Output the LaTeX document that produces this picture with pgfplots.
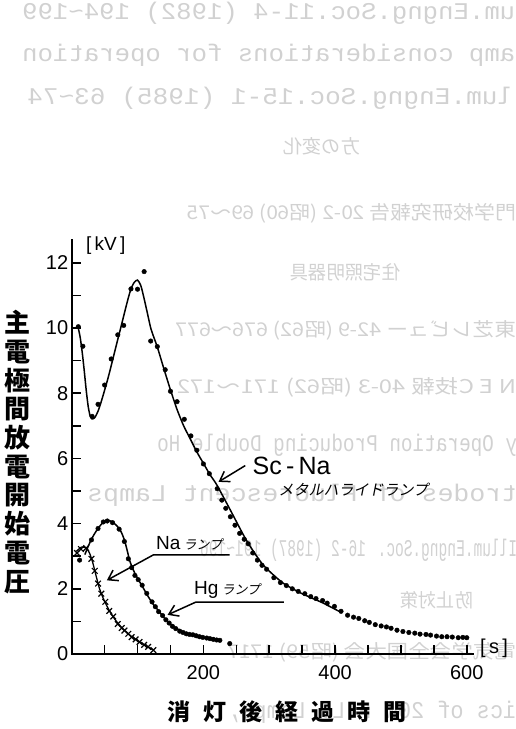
\documentclass[border=0pt]{standalone}
\usepackage{pgfplots}
\pgfplotsset{compat=1.18}
\usepackage{graphicx}
\usepackage{fontspec}
\setmainfont{Liberation Sans}
\newfontfamily\jp{Noto Sans CJK JP}
\newfontfamily\jpsl{Noto Sans CJK JP}[FakeSlant=0.2]
\newfontfamily\mono{Liberation Mono}
\usetikzlibrary{arrows.meta}
\newcommand{\bgl}[5]{\node[anchor=west, inner sep=0pt, text=black!18] at (#1pt,#2pt) {\reflectbox{\resizebox{#3pt}{\height}{#4#5}}};}
\begin{document}
\begin{tikzpicture}
\path[use as bounding box] (-71.7pt,-75pt) rectangle (444.3pt,654pt);
% faint show-through of the reverse page
\bgl{-49.7}{641}{493}{\mono\fontsize{24}{28}\selectfont}{um.Engng.Soc.11-4 (1982) 194\textasciitilde 199}
\bgl{-49.7}{599}{493}{\mono\fontsize{24}{28}\selectfont}{amp considerations for operation}
\bgl{-44.7}{556}{486}{\mono\fontsize{24}{28}\selectfont}{lum.Engng.Soc.15-1 (1985) 63\textasciitilde 74}
\bgl{211.3}{508}{77}{\jp\fontsize{19}{22}\selectfont}{方の変化}
\bgl{115.3}{441}{329}{\jp\fontsize{19}{22}\selectfont}{門学校研究報告 20-2 (昭60) 69～75}
\bgl{218.3}{382}{110}{\jp\fontsize{19}{22}\selectfont}{住宅照明器具}
\bgl{103.3}{324}{341}{\jp\fontsize{19}{22}\selectfont}{東芝レビュー 42-9 (昭62) 676～677}
\bgl{105.3}{267}{339}{\jp\fontsize{19}{22}\selectfont}{N E C技報 40-3 (昭62) 171～172}
\bgl{85.3}{209}{360}{\mono\fontsize{24}{28}\selectfont}{y Operation Producing Double Ho}
\bgl{15.3}{159}{430}{\mono\fontsize{24}{28}\selectfont}{trodes of Fluorescent Lamps}
\bgl{128.3}{104}{317}{\mono\fontsize{24}{28}\selectfont}{Illum.Engng.Soc. 16-2 (1987) 191\textasciitilde 196}
\bgl{328.3}{54}{73}{\jp\fontsize{19}{22}\selectfont}{防止対策}
\bgl{155.3}{2}{289}{\jp\fontsize{19}{22}\selectfont}{電気学会全国大会 (昭59) 1717}
\bgl{155.3}{-58}{289}{\mono\fontsize{24}{28}\selectfont}{ics of 20W F.L. Lamps,}
\begin{axis}[
  at={(0,0)}, anchor=south west,
  x=0.6585pt, y=32.6pt,
  xmin=0, xmax=610, ymin=0, ymax=12.7,
  axis lines=left,
  axis line style={-, line width=1.9pt, line cap=rect},
  tick align=inside,
  xtick={200,400,600},
  minor xtick={50,100,150,250,300,350,450,500,550},
  ytick={0,2,4,6,8,10,12},
  minor ytick={1,3,5,7,9,11},
  major tick length=9pt, minor tick length=9pt,
  tick style={black, line width=1.5pt},
  tick label style={font=\fontsize{20}{24}\selectfont},
  xticklabel style={yshift=-8pt},
  /pgf/number format/assume math mode=true,
  clip=false,
]
% Sc-Na metal halide lamp: measured points
\addplot[only marks, mark=*, mark size=2.3pt, black] table {
10 10.04
17 9.44
31 7.29
40 7.66
50 8.25
60 9.05
70 9.79
79 10.08
90 11.20
100 11.19
110 11.73
120 9.60
130 9.43
142 8.72
150 8.06
160 7.74
171 7.20
181 6.69
190 6.25
200 5.83
209 5.53
221 5.07
228 4.72
234 4.47
241 4.21
248 3.95
255 3.70
262 3.52
268 3.38
275 3.10
282 2.88
289 2.72
296 2.60
307 2.34
317 2.19
326 2.10
335 2.00
344 1.92
354 1.85
363 1.76
371 1.70
381 1.64
388 1.56
399 1.46
409 1.31
419 1.19
428 1.13
436 1.09
445 1.02
452 0.97
461 0.90
470 0.86
478 0.83
485 0.79
494 0.73
503 0.69
512 0.66
521 0.64
529 0.61
538 0.60
545 0.58
554 0.55
562 0.53
570 0.53
578 0.52
587 0.50
594 0.51
600 0.50
};
% Sc-Na fitted curve
\addplot[black, line width=1.5pt, smooth, tension=0.4] table {
10 10.0
13 9.7
16 9.25
19 8.7
22 8.1
25 7.6
28 7.3
31 7.21
35 7.25
40 7.45
45 7.75
55 8.45
65 9.25
75 10.05
85 10.85
90 11.2
95 11.4
100 11.47
105 11.3
110 10.9
115 10.45
120 10.0
125 9.7
130 9.42
140 8.75
150 8.1
160 7.5
170 7.0
180 6.6
190 6.2
200 5.85
210 5.5
220 5.2
240 4.45
265 3.5
290 2.75
320 2.19
350 1.85
380 1.58
406 1.31
};
% Hg lamp: measured points
\addplot[only marks, mark=*, mark size=2.3pt, black] table {
12 2.88
30 3.50
40 3.85
48 4.05
54 4.08
62 4.03
72 3.83
80 3.45
86 2.92
91 2.65
96 2.41
101 2.28
107 2.11
114 1.86
122 1.60
127 1.45
132 1.30
138 1.18
143 1.05
148 0.95
153 0.85
158 0.78
164 0.70
169 0.66
174 0.62
179 0.60
184 0.59
189 0.56
194 0.53
199 0.51
205 0.49
210 0.47
215 0.45
220 0.43
225 0.42
240 0.32
};
% Hg lamp curve
\addplot[black, line width=1.5pt, smooth, tension=0.4] table {
20 3.05
25 3.3
30 3.52
35 3.7
40 3.85
45 3.98
50 4.07
55 4.1
60 4.07
65 4.0
70 3.9
75 3.75
80 3.5
84 3.2
88 2.87
93 2.6
98 2.4
103 2.22
108 2.05
115 1.8
124 1.52
133 1.3
143 1.05
154 0.85
165 0.72
175 0.63
190 0.55
205 0.48
220 0.43
};
% Na lamp: measured points
\addplot[only marks, mark=x, mark size=4pt, black, mark options={line width=1.2pt}] table {
8 3.10
14 3.22
22 3.25
30 2.92
35 2.55
40 2.16
45 1.85
51 1.60
57 1.32
63 1.15
70 0.92
76 0.80
80 0.72
86 0.62
91 0.52
97 0.45
103 0.37
110 0.28
116 0.22
124 0.12
};
% Na lamp curve
\addplot[black, line width=1.3pt, smooth, tension=0.4] table {
7 3.15
15 3.28
22 3.25
27 3.1
32 2.8
37 2.4
42 2.02
47 1.75
52 1.53
58 1.3
65 1.08
72 0.9
80 0.73
90 0.55
100 0.41
110 0.28
118 0.19
124 0.12
};
% annotations
\node[font=\fontsize{25}{28}\selectfont] at (axis cs:334,5.78) {Sc\,-\,Na};
\draw[line width=1.5pt, -{Straight Barb[length=9pt,width=12pt]}] (axis cs:263.6,5.78) -- (axis cs:223,5.28);
\node[font=\jpsl\fontsize{15}{17}\selectfont] at (axis cs:427.7,5.05) {メタルハライドランプ};
\node[anchor=base west, inner sep=0pt] at (axis cs:128,3.21) {\fontsize{19}{22}\selectfont Na\,{\jpsl\fontsize{13}{15}\selectfont ランプ}};
\draw[line width=1.5pt, -{Straight Barb[length=9pt,width=12pt]}] (axis cs:240,3.04) -- (axis cs:124,3.04) -- (axis cs:53.4,2.26);
\node[anchor=base west, inner sep=0pt] at (axis cs:185.6,1.82) {\fontsize{19}{22}\selectfont Hg\,{\jpsl\fontsize{13}{15}\selectfont ランプ}};
\draw[line width=1.5pt, -{Straight Barb[length=9pt,width=12pt]}] (axis cs:322.4,1.59) -- (axis cs:188.3,1.59) -- (axis cs:145.6,1.2);
\end{axis}
% unit labels and axis titles
\node[anchor=west, font=\fontsize{19}{22}\selectfont] at (11pt,408pt) {[\,kV\,]};
\node[anchor=west, font=\fontsize{20}{22}\selectfont] at (405pt,6pt) {[\,s\,]};
\node[align=center, font=\jp\bfseries\fontsize{26}{28.7}\selectfont] at (-54pt,202pt) {主\\電\\極\\間\\放\\電\\開\\始\\電\\圧};
\node[font=\jp\bfseries\fontsize{23}{26}\selectfont] at (215.5pt,-57.7pt) {消\hspace{13pt}灯\hspace{13pt}後\hspace{13pt}経\hspace{13pt}過\hspace{13pt}時\hspace{13pt}間};
\end{tikzpicture}
\end{document}
